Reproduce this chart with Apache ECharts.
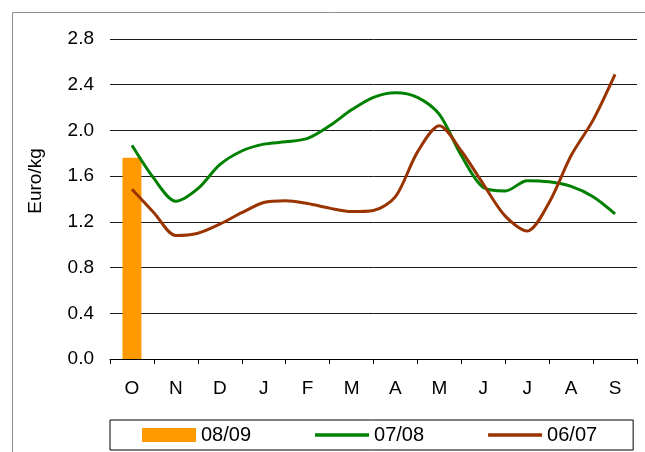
<!DOCTYPE html>
<html>
<head>
<meta charset="utf-8">
<script src="https://cdn.jsdelivr.net/npm/echarts@6/dist/echarts.min.js"></script>
<style>
  html, body { margin: 0; padding: 0; background: #fff; }
  #chart { width: 645px; height: 452px; }
</style>
</head>
<body>
<div id="chart"></div>
<script>
// Marketing-year months, October to September
const months = ['O', 'N', 'D', 'J', 'F', 'M', 'A', 'M', 'J', 'J', 'A', 'S'];
const yTicks = [0.0, 0.4, 0.8, 1.2, 1.6, 2.0, 2.4, 2.8];

// Current season: only October so far (Euro/kg)
const season0809 = [1.76, null, null, null, null, null, null, null, null, null, null, null];

// Half-month positions along the season (0 = October, 11 = September)
const halfMonths = [0, 0.5, 1, 1.5, 2, 2.5, 3, 3.5, 4, 4.5, 5, 5.5,
                    6, 6.5, 7, 7.5, 8, 8.5, 9, 9.5, 10, 10.5, 11];

// Previous seasons, Euro/kg at each half-month position
const season0708 = [1.87, 1.58, 1.38, 1.49, 1.70, 1.82, 1.88, 1.90, 1.93, 2.04, 2.18, 2.29,
                    2.33, 2.29, 2.14, 1.78, 1.50, 1.47, 1.56, 1.55, 1.51, 1.42, 1.27];
const season0607 = [1.485, 1.28, 1.08, 1.10, 1.18, 1.28, 1.37, 1.385, 1.36, 1.32, 1.29, 1.30,
                    1.42, 1.81, 2.04, 1.82, 1.53, 1.25, 1.12, 1.37, 1.78, 2.09, 2.49];

const pairs = (xs, ys) => xs.map((x, i) => [x, ys[i]]);

const FONT = '"Liberation Sans", Arial, sans-serif';
// thin bar used as the legend key of the line series
const LINE_KEY = 'path://M0,0 L54,0 L54,3.5 L0,3.5 Z';

const chart = echarts.init(document.getElementById('chart'), null, { renderer: 'canvas' });

chart.setOption({
  animation: false,
  backgroundColor: '#ffffff',
  textStyle: { fontFamily: FONT, color: '#000' },
  grid: { left: 110, right: 8, top: 39, bottom: 93, containLabel: false },
  graphic: [
    {
      type: 'rect',
      shape: { x: 12.5, y: 12.5, width: 700, height: 500 },
      style: { fill: 'none', stroke: '#8c8c8c', lineWidth: 1 },
      silent: true
    },
    {
      type: 'text',
      x: 36, y: 181,
      rotation: Math.PI / 2,
      style: {
        text: 'Euro/kg', fill: '#000', font: '19px ' + FONT,
        textAlign: 'center', textVerticalAlign: 'middle'
      }
    }
  ],
  legend: {
    left: 110, top: 420,
    padding: [5, 36, 5, 32],
    borderColor: '#000', borderWidth: 1,
    itemWidth: 54, itemHeight: 14, itemGap: 64,
    symbolKeepAspect: true,
    textStyle: { fontSize: 20, fontFamily: FONT, color: '#000' },
    data: [
      { name: '08/09', icon: 'rect' },
      { name: '07/08', icon: LINE_KEY },
      { name: '06/07', icon: LINE_KEY }
    ]
  },
  xAxis: [
    {
      type: 'category',
      data: months,
      boundaryGap: true,
      axisLine: { lineStyle: { color: '#000', width: 1 } },
      axisTick: { show: true, length: 5, inside: false, lineStyle: { color: '#000' } },
      axisLabel: { fontSize: 19, fontFamily: FONT, color: '#000', margin: 20 },
      splitLine: { show: false }
    },
    {
      type: 'value',
      min: -0.5, max: 11.5,
      show: false
    }
  ],
  yAxis: {
    type: 'value',
    min: 0, max: 2.8, interval: 0.4,
    axisLine: { show: false },
    axisTick: { show: false },
    axisLabel: {
      fontSize: 19, fontFamily: FONT, color: '#000', margin: 16,
      formatter: v => v.toFixed(1)
    },
    splitLine: { show: true, lineStyle: { color: '#1a1a1a', width: 1 } }
  },
  series: [
    {
      name: '08/09',
      type: 'bar',
      xAxisIndex: 0,
      data: season0809,
      barWidth: 19,
      itemStyle: { color: '#ff9900' }
    },
    {
      name: '07/08',
      type: 'line',
      xAxisIndex: 1,
      data: pairs(halfMonths, season0708),
      smooth: 0.3,
      symbol: 'none',
      lineStyle: { color: '#008000', width: 3 },
      itemStyle: { color: '#008000' }
    },
    {
      name: '06/07',
      type: 'line',
      xAxisIndex: 1,
      data: pairs(halfMonths, season0607),
      smooth: 0.3,
      symbol: 'none',
      lineStyle: { color: '#993300', width: 3 },
      itemStyle: { color: '#993300' }
    }
  ]
});
</script>
</body>
</html>
